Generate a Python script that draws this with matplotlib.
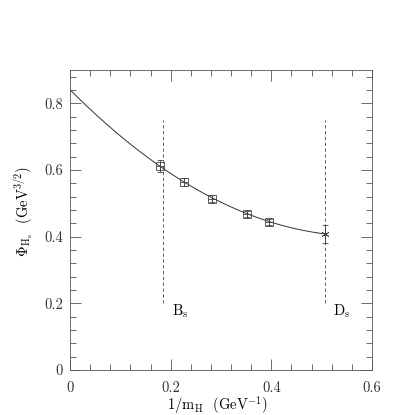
import numpy as np
import matplotlib as mpl
mpl.use("Agg")
import matplotlib.pyplot as plt
from matplotlib.ticker import MultipleLocator

mpl.rcParams.update({
    "font.family": ["cmr10", "DejaVu Serif"],
    "mathtext.fontset": "cm",
    "axes.formatter.use_mathtext": True,
    "font.size": 10.5,
    "axes.linewidth": 0.6,
    "axes.edgecolor": "#555555",
    "xtick.direction": "in",
    "ytick.direction": "in",
    "xtick.top": True,
    "ytick.right": True,
    "xtick.color": "#555555",
    "ytick.color": "#555555",
    "xtick.labelcolor": "#333333",
    "ytick.labelcolor": "#333333",
})

# lattice points (heavy-strange)
X_PTS = [0.179, 0.227, 0.283, 0.352, 0.395]
Y_PTS = [0.611, 0.564, 0.514, 0.468, 0.444]
Y_ERR = [0.018, 0.012, 0.010, 0.009, 0.008]

# extrapolated D_s point
X_DS, Y_DS, ERR_DS = 0.507, 0.408, 0.028

# quadratic fit coefficients (c2, c1, c0)
FIT_COEFFS = [1.314, -1.520, 0.841]
FIT_RANGE = (0.0, 0.507)

# physical B_s / D_s positions
X_BS_LINE = 0.185
X_DS_LINE = 0.507
LINE_Y = (0.2, 0.75)

INK = "#444444"


def _fmt(v, p):
    return "0" if v == 0 else f"{v:.1f}"


def main():
    fig = plt.figure(figsize=(4.15, 4.15), dpi=100)
    ax = fig.add_axes([70 / 415, 45 / 415, 302 / 415, 300 / 415])

    xf = np.linspace(*FIT_RANGE, 200)
    ax.plot(xf, np.polyval(FIT_COEFFS, xf), color="#333333", lw=0.7)

    ax.errorbar(X_PTS, Y_PTS, yerr=Y_ERR, fmt="s", ms=5.3, mfc="none",
                mec=INK, mew=0.6, ecolor=INK, elinewidth=0.6,
                capsize=2.5, capthick=0.6)
    ax.plot(X_PTS, Y_PTS, "+", ms=5.3, mew=0.6, color=INK)

    ax.errorbar([X_DS], [Y_DS], yerr=[ERR_DS], fmt="none", ecolor=INK,
                elinewidth=0.7, capsize=2.5, capthick=0.6)
    ax.plot([X_DS], [Y_DS], marker=(6, 2, 0), ms=5.5, mew=0.6, color=INK,
            ls="none")

    for xv in (X_BS_LINE, X_DS_LINE):
        ax.plot([xv, xv], LINE_Y, ls=(0, (4, 3)), color=INK, lw=0.6)

    ax.text(0.202, 0.177, r"B$_{\rm s}$", ha="left", va="center", fontsize=10.5)
    ax.text(0.522, 0.177, r"D$_{\rm s}$", ha="left", va="center", fontsize=10.5)

    ax.set_xlim(0, 0.6)
    ax.set_ylim(0, 0.9)
    ax.xaxis.set_major_locator(MultipleLocator(0.2))
    ax.xaxis.set_minor_locator(MultipleLocator(0.04))
    ax.yaxis.set_major_locator(MultipleLocator(0.2))
    ax.yaxis.set_minor_locator(MultipleLocator(0.04))
    ax.tick_params(which="major", length=8, width=0.6)
    ax.tick_params(which="minor", length=4, width=0.6)
    ax.tick_params(axis="x", which="major", pad=8)
    ax.tick_params(axis="y", which="major", pad=5)
    ax.xaxis.set_major_formatter(plt.FuncFormatter(_fmt))
    ax.yaxis.set_major_formatter(plt.FuncFormatter(_fmt))

    ax.set_xlabel(r"1/m$_{\rm H}$  (GeV$^{-1}$)", va="center")
    ax.xaxis.set_label_coords(0.487, -0.117)
    ax.set_ylabel(r"$\Phi_{\rm H_s}$  (GeV$^{3/2}$)", va="center")
    ax.yaxis.set_label_coords(-0.152, 0.527)

    fig.savefig("out.png", dpi=100)
    plt.close(fig)


if __name__ == "__main__":
    main()
